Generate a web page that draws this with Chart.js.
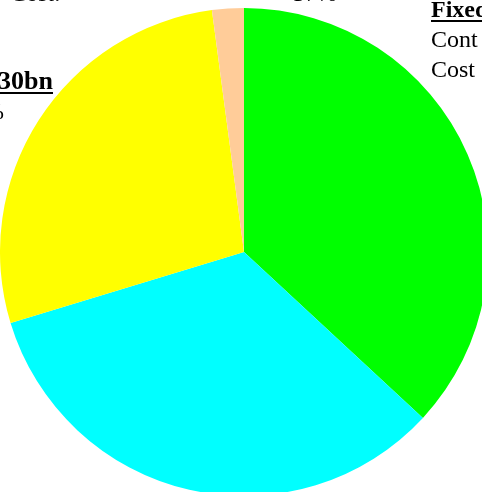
<!DOCTYPE html>
<html>
<head>
<meta charset="utf-8">
<script src="https://cdn.jsdelivr.net/npm/chart.js@4/dist/chart.umd.min.js"></script>
<style>
  html, body { margin: 0; padding: 0; overflow: hidden; background: #fff; }
  body { width: 482px; height: 492px; position: relative; }
  #costChart { position: absolute; left: 0; top: 0; }
</style>
</head>
<body>
<canvas id="costChart" width="488" height="500"></canvas>
<script>
// slices, clockwise from 12 o'clock
const categories = ['Fixed', 'Variable', 'Other', 'Misc'];
const shares = [36.9, 33.4, 27.6, 2.1];
const sliceColors = ['#00ff00', '#00ffff', '#ffff00', '#ffcc99'];

// label fragments round the pie (cropped in the picture)
const labels = [
  { text: 'Cost:', x: 10, y: 0.5, size: 24, bold: false, underline: false },
  { text: '37%', x: 293, y: 0.5, size: 24, bold: false, underline: false },
  { text: 'Fixed', x: 431, y: 17, size: 24, bold: true, underline: true },
  { text: 'Cont', x: 431, y: 47, size: 24, bold: false, underline: false },
  { text: 'Cost', x: 431, y: 77, size: 24, bold: false, underline: false },
  { text: '30bn', x: 53, y: 89, size: 26, bold: true, underline: true, right: true },
  { text: '%', x: 4, y: 119, size: 24, bold: false, underline: false, right: true }
];

const labelPlugin = {
  id: 'labelPlugin',
  afterDraw(chart) {
    const c = chart.ctx;
    c.save();
    c.fillStyle = '#000';
    c.textBaseline = 'alphabetic';
    c.textAlign = 'left';
    labels.forEach(l => {
      c.font = (l.bold ? 'bold ' : '') + l.size + 'px "Liberation Serif", "Times New Roman", serif';
      const w = c.measureText(l.text).width;
      const x0 = l.right ? l.x - w : l.x;
      c.fillText(l.text, x0, l.y);
      if (l.underline) {
        c.fillRect(x0, l.y + 3, w, 2);
      }
    });
    c.restore();
  }
};

const ctx = document.getElementById('costChart');
const costChart = new Chart(ctx, {
  type: 'pie',
  data: {
    labels: categories,
    datasets: [{
      data: shares,
      backgroundColor: sliceColors,
      borderWidth: 0
    }]
  },
  options: {
    responsive: false,
    animation: false,
    layout: { padding: { top: 8, bottom: 4, left: 0, right: 0 } },
    plugins: {
      legend: { display: false },
      tooltip: { enabled: false }
    }
  },
  plugins: [labelPlugin]
});
</script>
</body>
</html>
